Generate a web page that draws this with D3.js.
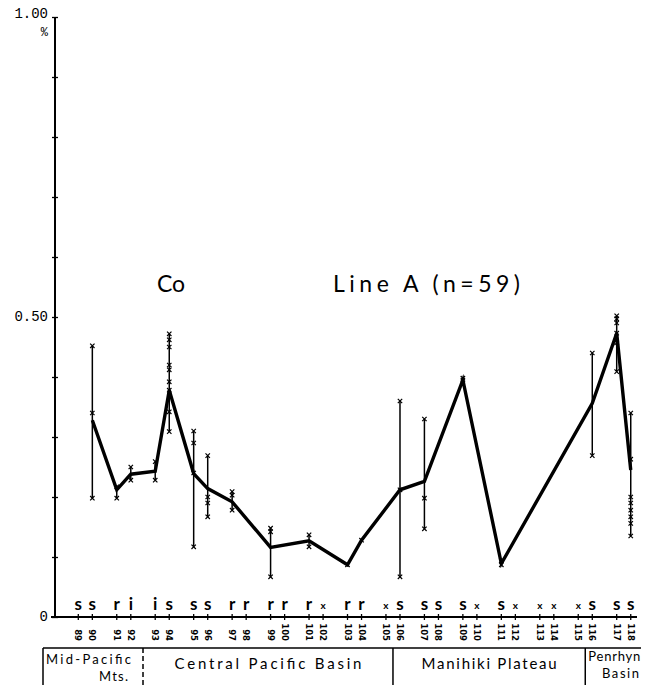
<!DOCTYPE html>
<html>
<head>
<meta charset="utf-8">
<script src="https://cdn.jsdelivr.net/npm/d3@7"></script>
<style>
body { margin: 0; background: #fff; }
</style>
</head>
<body>
<div id="canvas"></div>
<script>
// ----------------------------------------------------------
// DATA -----------------------------------------------------
// ----------------------------------------------------------
// station numbers along Line A
var stations = [89, 90, 91, 92, 93, 94, 95, 96, 97, 98, 99, 100, 101, 102, 103,
104, 105, 106, 107, 108, 109, 110, 111, 112, 113, 114, 115, 116, 117, 118];

// sediment type letter over each station
var sed_type = ["s", "s", "r", "i", "i", "s", "s", "s", "r", "r", "r", "r", "r", "x", "r",
"r", "x", "s", "s", "s", "s", "x", "s", "x", "x", "x", "x", "s", "s", "s"];

// Co (%) value on the connecting line, null = no value
var co_line = [null, 0.328, 0.212, 0.238, 0.243, 0.378, 0.239, 0.214, 0.192, null, 0.116, null, 0.127, null, 0.087,
0.128, null, 0.212, 0.226, null, 0.395, null, 0.089, null, null, null, null, 0.356, 0.473, 0.245];

// single sample values at each station
var co_samples = [
[], [0.452, 0.34, 0.198], [0.217, 0.198], [0.25, 0.228], [0.259, 0.228],
[0.472, 0.462, 0.45, 0.42, 0.412, 0.392, 0.378, 0.342, 0.309],
[0.31, 0.29, 0.24, 0.117], [0.269, 0.2, 0.19, 0.167], [0.209, 0.203, 0.178], [],
[0.148, 0.142, 0.067], [], [0.137, 0.117], [], [0.087],
[0.128], [], [0.36, 0.212, 0.067], [0.33, 0.198, 0.147], [],
[0.398, 0.395], [], [0.094, 0.087], [], [],
[], [], [0.44, 0.269], [0.502, 0.497, 0.49, 0.473, 0.457, 0.409],
[0.34, 0.263, 0.2, 0.19, 0.178, 0.167, 0.156, 0.135]
];

// y ticks and labels
var y_ticks = [0, 0.1, 0.2, 0.3, 0.4, 0.5, 0.6, 0.7, 0.8, 0.9, 1.0];
var y_labels = [{ v: 0, t: "0" }, { v: 0.5, t: "0.50" }, { v: 1.0, t: "1.00" }];

// regions below the axis: name lines and first station
var region_names = [["Mid-Pacific", "Mts."], ["Central Pacific Basin"], ["Manihiki Plateau"], ["Penrhyn", "Basin"]];
var region_start = [89, 93, 106, 116];

var title_element = "Co";
var title_line = "Line A (n=59)";

var data_set =
{
container_width: 645,
container_height: 685,
color_text: "#000",
font_geo: "Lato, 'DejaVu Sans', sans-serif",
font_num: "'Liberation Mono', 'DejaVu Sans Mono', monospace"
};


// ----------------------------------------------------------
// STRUCTURE ------------------------------------------------
// ----------------------------------------------------------
var container = d3.select("#canvas").append("svg")
.attr("width", data_set.container_width)
.attr("height", data_set.container_height)
.style("background-color", "#fff");

var axis_group = container.append("g").attr("class", "axis_group");
var gfx_group = container.append("g").attr("class", "gfx_group");
var text_group = container.append("g").attr("class", "text_group");

// scales
// stations come in pairs: pair index + small offset for the second one
var xScale = d3.scaleLinear()
.domain([0, 14])
.range([78.3, 616.7]);
var stationX = (i) => xScale(Math.floor(i / 2) + (i % 2) * 0.365);

var yScale = d3.scaleLinear()
.domain([0, 1])
.range([617, 17]);


// ----------------------------------------------------------
// AXES -----------------------------------------------------
// ----------------------------------------------------------
// left
axis_group.append("g")
.attr("class", "gfx_scale_left")
.attr("transform", "translate(55, 0)")
.call(d3.axisLeft(yScale).tickValues(y_ticks).tickSize(3).tickFormat(""))
.call((g) => g.select(".domain").remove())
.call((g) => g.selectAll(".tick line").attr("x2", 3).attr("x1", -3).attr("stroke-width", 1.3));

axis_group.append("line")
.attr("x1", 55).attr("x2", 55)
.attr("y1", yScale(1)).attr("y2", yScale(0) + 1)
.attr("stroke", "#000").attr("stroke-width", 2);

// bottom
axis_group.append("line")
.attr("x1", 51).attr("x2", 637)
.attr("y1", yScale(0)).attr("y2", yScale(0))
.attr("stroke", "#000").attr("stroke-width", 2);

axis_group.selectAll(".gfx_tick_bottom")
.data(stations)
.enter()
.append("line")
.attr("class", "gfx_tick_bottom")
.attr("x1", (d, i) => stationX(i)).attr("x2", (d, i) => stationX(i))
.attr("y1", yScale(0) - 3).attr("y2", yScale(0) + 3)
.attr("stroke", "#000").attr("stroke-width", 1.3);

// y labels
text_group.selectAll(".y_label")
.data(y_labels)
.enter()
.append("text")
.attr("class", "y_label")
.attr("x", 48)
.attr("y", (d) => yScale(d.v))
.attr("dy", (d) => d.v == 1 ? "0.1em" : "0.3em")
.attr("text-anchor", "end")
.style("font-family", data_set.font_num)
.style("font-size", "14px")
.text((d) => d.t);

text_group.append("text")
.attr("x", 48).attr("y", 36)
.attr("text-anchor", "end")
.style("font-family", data_set.font_num)
.style("font-size", "12px")
.text("%");


// ----------------------------------------------------------
// GFX ------------------------------------------------------
// ----------------------------------------------------------
// range bars
var bars = co_samples.map((s, i) => ({ i: i, s: s })).filter((d) => d.s.length > 1);

gfx_group.selectAll(".gfx_range")
.data(bars)
.enter()
.append("line")
.attr("class", "gfx_range")
.attr("x1", (d) => stationX(d.i)).attr("x2", (d) => stationX(d.i))
.attr("y1", (d) => yScale(d3.max(d.s))).attr("y2", (d) => yScale(d3.min(d.s)))
.attr("stroke", "#000").attr("stroke-width", 1.5);

// sample markers (small x)
var samples = [];
co_samples.forEach((s, i) => s.forEach((v) => samples.push({ i: i, v: v })));

gfx_group.selectAll(".gfx_sample")
.data(samples)
.enter()
.append("path")
.attr("class", "gfx_sample")
.attr("d", (d) => {
var x = stationX(d.i), y = yScale(d.v), r = 2.2;
return `M${x - r},${y - r}L${x + r},${y + r}M${x - r},${y + r}L${x + r},${y - r}`;
})
.attr("stroke", "#000").attr("stroke-width", 1.2).attr("fill", "none");

// main line
var line_points = co_line.map((v, i) => ({ i: i, v: v })).filter((d) => d.v != null);

gfx_group.append("path")
.datum(line_points)
.attr("class", "gfx_line")
.attr("d", d3.line().x((d) => stationX(d.i)).y((d) => yScale(d.v)))
.attr("fill", "none")
.attr("stroke", "#000")
.attr("stroke-width", 3.4)
.attr("stroke-linejoin", "miter");


// ----------------------------------------------------------
// TEXT -----------------------------------------------------
// ----------------------------------------------------------
text_group.append("text")
.attr("x", 157).attr("y", 292)
.attr("textLength", 28)
.attr("lengthAdjust", "spacing")
.style("font-family", data_set.font_geo)
.style("font-size", "23px")
.text(title_element);

text_group.append("text")
.attr("x", 333).attr("y", 292)
.attr("textLength", 187)
.attr("lengthAdjust", "spacing")
.style("font-family", data_set.font_geo)
.style("font-size", "23px")
.text(title_line);

// sediment letters
text_group.selectAll(".sed_letter")
.data(sed_type)
.enter()
.append("text")
.attr("class", "sed_letter")
.attr("x", (d, i) => stationX(i))
.attr("y", (d) => d == "x" ? 609 : 610)
.attr("text-anchor", "middle")
.style("font-family", data_set.font_geo)
.style("font-size", (d) => d == "x" ? "10px" : "17px")
.style("font-weight", "bold")
.text((d) => d);

// station numbers, rotated
text_group.selectAll(".station_label")
.data(stations)
.enter()
.append("text")
.attr("class", "station_label")
.attr("transform", (d, i) => `translate(${stationX(i)}, 641) rotate(90)`)
.attr("text-anchor", "end")
.attr("dy", "0.35em")
.style("font-family", "'DejaVu Sans', sans-serif")
.style("font-size", "8.5px")
.style("font-weight", "bold")
.text((d) => d);

// ----------------------------------------------------------
// REGIONS --------------------------------------------------
// ----------------------------------------------------------
var region_x = region_start.map((s, k) => {
var i = stations.indexOf(s);
return k == 0 ? 43 : (stationX(i - 1) + stationX(i)) / 2;
});
var region_end = region_x.slice(1).concat([641]);

axis_group.append("line")
.attr("x1", 43).attr("x2", 641)
.attr("y1", 648).attr("y2", 648)
.attr("stroke", "#000").attr("stroke-width", 1.5);

axis_group.selectAll(".region_divider")
.data(region_x)
.enter()
.append("line")
.attr("class", "region_divider")
.attr("x1", (d) => d).attr("x2", (d) => d)
.attr("y1", 648).attr("y2", 685)
.attr("stroke", "#000")
.attr("stroke-width", 1.5)
.attr("stroke-dasharray", (d, k) => k == 1 ? "5,3" : null);

// text widths
var region_len = [[85, 29], [187], [135], [52, 37]];

region_names.forEach((names, k) => {
if (names.length == 1) {
text_group.append("text")
.attr("class", "region_label")
.attr("x", (region_x[k] + region_end[k]) / 2 - region_len[k][0] / 2)
.attr("y", 669)
.attr("textLength", region_len[k][0])
.style("font-family", data_set.font_geo)
.style("font-size", "15px")
.text(names[0]);
} else {
text_group.append("text")
.attr("class", "region_label")
.attr("x", region_x[k] + 3).attr("y", k == 0 ? 664 : 661)
.attr("textLength", region_len[k][0])
.style("font-family", data_set.font_geo)
.style("font-size", "13px")
.text(names[0]);
text_group.append("text")
.attr("class", "region_label")
.attr("x", region_end[k] - (k == 0 ? 15 : 2) - region_len[k][1]).attr("y", k == 0 ? 681 : 678)
.attr("textLength", region_len[k][1])
.style("font-family", data_set.font_geo)
.style("font-size", "13px")
.text(names[1]);
}
});
</script>
</body>
</html>
